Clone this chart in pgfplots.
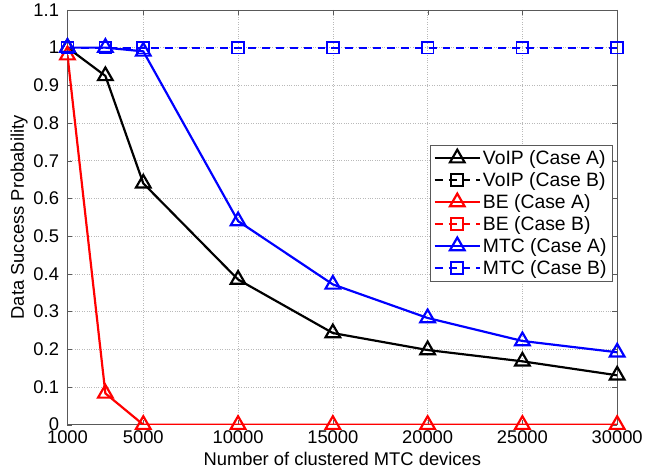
\documentclass[border=0pt]{standalone}
\usepackage{fontspec}
\setmainfont{Liberation Sans}
\usepackage{pgfplots}
\pgfplotsset{compat=1.18}

\begin{document}
\begin{tikzpicture}
\begin{axis}[
    scale only axis,
    width=554pt, height=418pt,
    xmin=1000, xmax=30000,
    ymin=0, ymax=1.1,
    xtick={1000,5000,10000,15000,20000,25000,30000},
    ytick={0,0.1,...,1.1},
    scaled x ticks=false,
    /pgf/number format/.cd, assume math mode=true, 1000 sep={}, fixed,
    /pgfplots/.cd,
    tick label style={font=\fontsize{18.5}{21}\selectfont},
    label style={font=\fontsize{18.5}{21}\selectfont},
    xticklabel style={yshift=-3pt},
    yticklabel style={xshift=-5pt},
    xlabel={Number of clustered MTC devices},
    ylabel={Data Success Probability},
    xlabel style={yshift=-1pt},
    ylabel style={yshift=-1pt},
    grid=major,
    major grid style={dotted, gray!55, line width=0.5pt},
    axis line style={gray!70!black, line width=0.6pt},
    tick style={gray!70!black},
    tick align=inside,
    major tick length=5pt,
    every axis plot/.append style={line width=2.2pt, mark size=8.5pt},
    legend image code/.code={
        \draw[mark repeat=2, mark phase=2] plot coordinates {(0cm,0cm) (0.8cm,0cm) (1.6cm,0cm)};},
    legend image post style={line width=2.2pt},
    legend style={at={(0.991,0.675)}, anchor=north east, draw=gray!70!black,
        font=\fontsize{19.5}{22}\selectfont, row sep=2.5pt, inner sep=3.5pt},
    legend cell align=left,
]
% VoIP Case A
\addplot[black, mark=triangle, mark options={solid}] coordinates {
(1000,1) (3000,0.925) (5000,0.64) (10000,0.385) (15000,0.243) (20000,0.198) (25000,0.168) (30000,0.131)};
% VoIP Case B
\addplot[black, dash pattern=on 8pt off 6pt, mark=square, mark size=6pt, mark options={solid, line width=1.8pt}] coordinates {
(1000,1) (3000,1) (5000,1) (10000,1) (15000,1) (20000,1) (25000,1) (30000,1)};
% BE Case A
\addplot[red, mark=triangle, mark options={solid}] coordinates {
(1000,0.98) (3000,0.083) (5000,0) (10000,0) (15000,0) (20000,0) (25000,0) (30000,0)};
% BE Case B
\addplot[red, dash pattern=on 8pt off 6pt, mark=square, mark size=6pt, mark options={solid, line width=1.8pt}] coordinates {
(1000,1) (3000,1) (5000,1) (10000,1) (15000,1) (20000,1) (25000,1) (30000,1)};
% MTC Case A
\addplot[blue, mark=triangle, mark options={solid}] coordinates {
(1000,1) (3000,1) (5000,0.99) (10000,0.54) (15000,0.372) (20000,0.283) (25000,0.222) (30000,0.192)};
% MTC Case B
\addplot[blue, dash pattern=on 8pt off 6pt, mark=square, mark size=6pt, mark options={solid, line width=1.8pt}] coordinates {
(1000,1) (3000,1) (5000,1) (10000,1) (15000,1) (20000,1) (25000,1) (30000,1)};
\legend{VoIP (Case A), VoIP (Case B), BE (Case A), BE (Case B), MTC (Case A), MTC (Case B)}
\end{axis}
\path (current axis.south west) ++(-68pt,-51pt);
\path (current axis.north east) ++(24pt,10pt);
\end{tikzpicture}
\end{document}
